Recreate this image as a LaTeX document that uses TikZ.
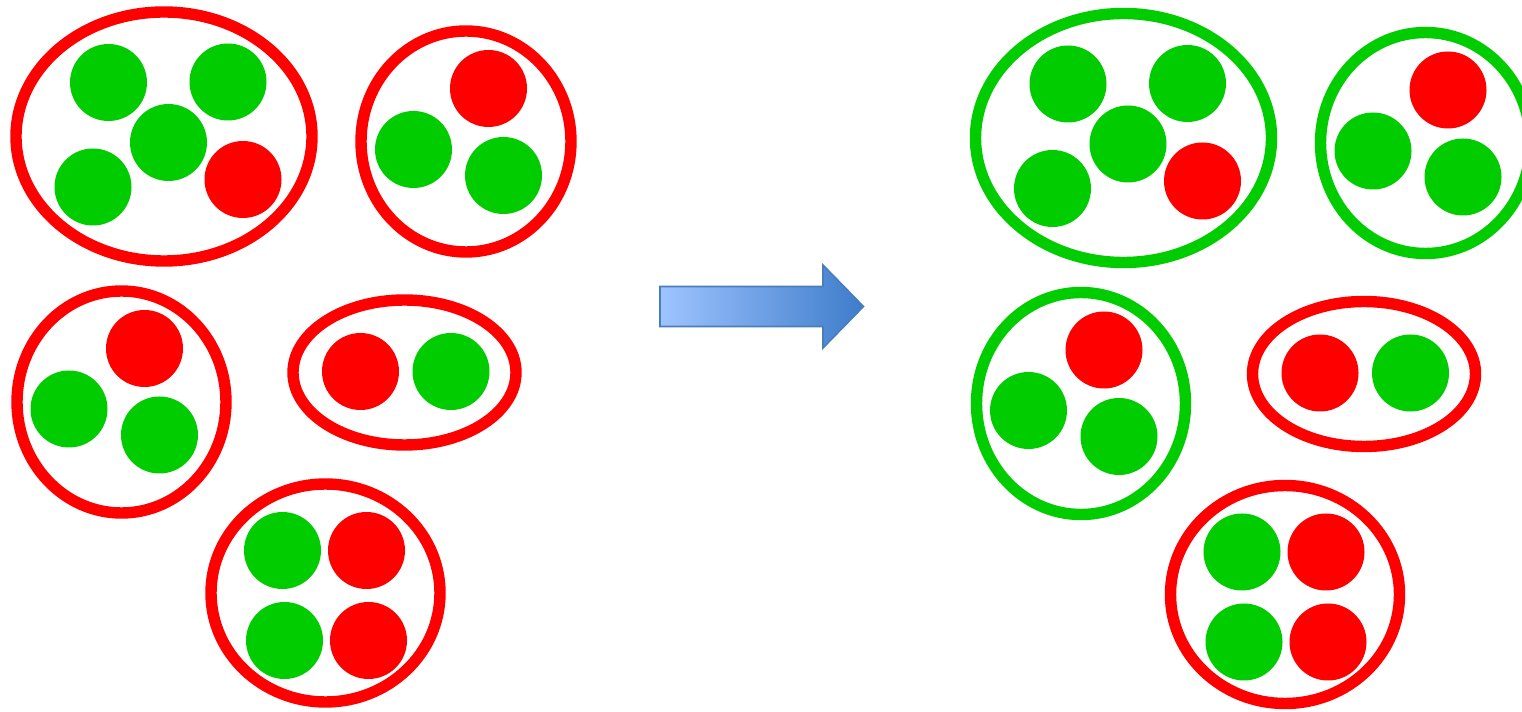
\documentclass[tikz,border=0pt]{standalone}
\usepackage{tikz}

\definecolor{ballred}{RGB}{255,0,0}
\definecolor{ballgreen}{RGB}{0,204,0}
\definecolor{arrowlight}{RGB}{158,196,255}
\definecolor{arrowdark}{RGB}{62,124,202}
\definecolor{arrowline}{RGB}{74,126,187}

\begin{document}
\begin{tikzpicture}[x=0.02cm, y=-0.02cm,
        ring/.style={line width=6.5pt},
        redball/.style={fill=ballred},
        greenball/.style={fill=ballgreen}]
    \useasboundingbox (0,0) rectangle (1522,712);
    \clip (0,0) rectangle (1522,712);
    % left: before, right: after
    \foreach \dx/\dy/\col in {0/0/ballred, 959.5/1.5/ballgreen} {
        \begin{scope}[shift={(\dx,\dy)}]
            \draw[ring, \col] (164,136.5) ellipse [x radius=148, y radius=124.5];
            \draw[ring, \col] (466,141.5) ellipse [x radius=105, y radius=110.5];
            \draw[ring, \col] (121.5,402) ellipse [x radius=104.5, y radius=111];
            \draw[ring, ballred] (404.5,372.5) ellipse [x radius=111.5, y radius=72.5];
            \draw[ring, ballred] (325.5,593) ellipse [x radius=114.5, y radius=109];
            \foreach \bx/\by in {108.5/82.5, 228/82, 168.5/142.5, 93/187, 413.5/149.5,
                    503.5/175.5, 69/409, 159.5/435, 451/371.5, 282.5/550.5, 284.5/640.5}
                \fill[greenball] (\bx,\by) circle [radius=38.5];
            \foreach \bx/\by in {243/179.5, 488.5/88.5, 144.5/348.5, 360.5/371.5,
                    366.5/550.5, 368.5/640.5}
                \fill[redball] (\bx,\by) circle [radius=38.5];
        \end{scope}
    }
    % arrow
    \shade[left color=arrowlight, right color=arrowdark, draw=arrowline, line width=0.9pt]
        (660,286.5) -- (823,286.5) -- (823,265) -- (863.5,306.5)
        -- (823,348) -- (823,326.5) -- (660,326.5) -- cycle;
\end{tikzpicture}
\end{document}
